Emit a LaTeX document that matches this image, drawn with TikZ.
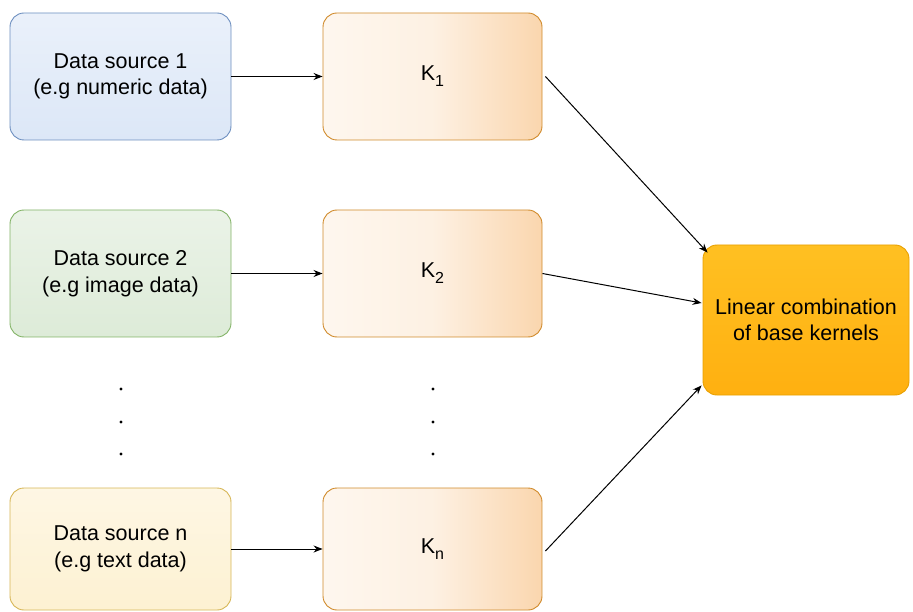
\documentclass[tikz,border=0pt]{standalone}
\usepackage{fontspec}
\setmainfont{Liberation Sans}
\usetikzlibrary{arrows.meta,calc}

\definecolor{blueedge}{HTML}{6C8EBF}
\definecolor{bluefill}{HTML}{DCE7F7}
\definecolor{greenedge}{HTML}{82B366}
\definecolor{greenfill}{HTML}{DDEBD8}
\definecolor{yellowedge}{HTML}{D6B656}
\definecolor{yellowfill}{HTML}{FDF1D2}
\definecolor{orangeedge}{HTML}{D08A2A}
\definecolor{peach}{HTML}{FAD6AE}
\definecolor{goldtop}{HTML}{FFC022}
\definecolor{goldbottom}{HTML}{FFB010}
\definecolor{goldedge}{HTML}{E8A000}

\newcommand{\subidx}[1]{\raisebox{-6pt}{\fontsize{16}{16}\selectfont #1}}

\tikzset{
  box/.style={rounded corners=14pt, line width=0.9pt, inner sep=0pt,
    minimum width=221pt, align=center, font=\fontsize{21.5}{26.5}\selectfont},
  source/.style={box, minimum height=127pt},
  kernel/.style={box, draw=orangeedge, minimum width=219pt, minimum height=127pt,
    left color=white!80!peach, right color=peach, middle color=white!65!peach},
  combo/.style={box, draw=goldedge, minimum width=206pt, minimum height=150pt,
    top color=goldtop, bottom color=goldbottom},
  link/.style={draw=black, line width=1pt, -{Stealth[length=9pt,width=7pt]}},
  vdot/.style={fill=black, radius=1.7pt}
}

\begin{document}
\begin{tikzpicture}[x=1pt, y=-1pt]
  \useasboundingbox (0,0) rectangle (913,612);

  % data sources
  \node[source, draw=blueedge, top color=white!40!bluefill, bottom color=bluefill]
    (ds1) at (120.5,76.5) {Data source 1\\(e.g numeric data)};
  \node[source, draw=greenedge, top color=white!40!greenfill, bottom color=greenfill]
    (ds2) at (120.5,273.5) {Data source 2\\(e.g image data)};
  \node[source, draw=yellowedge, minimum height=122pt, top color=white!40!yellowfill, bottom color=yellowfill]
    (dsn) at (120.5,549) {Data source n\\(e.g text data)};

  % base kernels
  \node[kernel] (k1) at (432.5,76.5) {K\subidx{1}};
  \node[kernel] (k2) at (432.5,273.5) {K\subidx{2}};
  \node[kernel, minimum height=122pt] (kn) at (432.5,549) {K\subidx{n}};

  % combination
  \node[combo] (lc) at (806,320) {Linear combination\\of base kernels};

  % ellipsis dots
  \foreach \y in {389,422,454} {
    \fill[vdot] (121,\y) circle;
    \fill[vdot] (433,\y) circle;
  }

  % connectors
  \draw[link] (ds1) -- (k1);
  \draw[link] (ds2) -- (k2);
  \draw[link] (dsn) -- (kn);

  \coordinate (in1) at ($(lc.north west)+(5,8)$);
  \coordinate (in2) at ($(lc.west)+(-1,-17)$);
  \coordinate (in3) at ($(lc.south west)+(-1,-10)$);
  \draw[link] ($(k1.east)+(3,0)$) -- (in1);
  \draw[link] (k2.east) -- (in2);
  \draw[link] ($(kn.east)+(3,2)$) -- (in3);
\end{tikzpicture}
\end{document}
